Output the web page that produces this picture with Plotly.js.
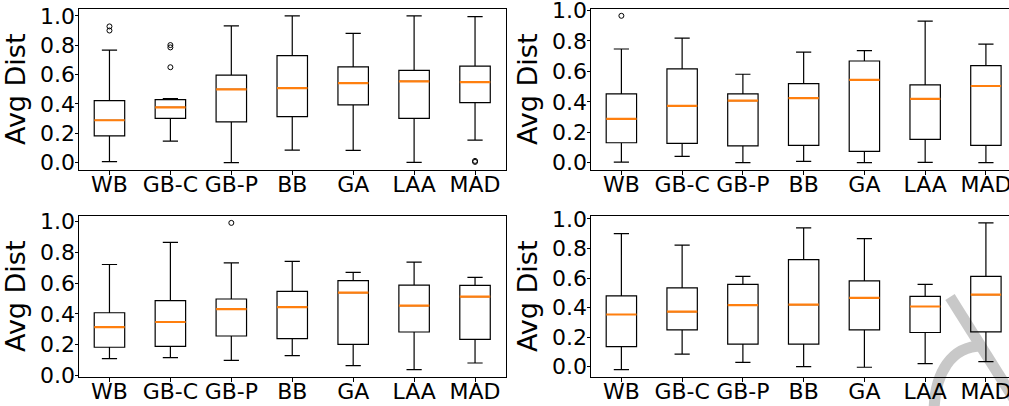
<!DOCTYPE html>
<html>
<head>
<meta charset="utf-8">
<script src="https://cdn.plot.ly/plotly-3.0.1.min.js"></script>
<style>html,body{margin:0;padding:0;background:#fff}#chart{width:1009px;height:406px}</style>
</head>
<body>
<div id="chart"></div>
<script>
// ---------- data ----------
const categories = ['WB', 'GB-C', 'GB-P', 'BB', 'GA', 'LAA', 'MAD'];
const yTickVals = [0, 0.2, 0.4, 0.6, 0.8, 1.0];
const yTickText = ['0.0', '0.2', '0.4', '0.6', '0.8', '1.0'];
const yTitle = 'Avg Dist';

// top-left panel
const tlLow = [0.007, 0.147, 0.000, 0.086, 0.084, 0.002, 0.153];
const tlQ1  = [0.183, 0.302, 0.278, 0.314, 0.393, 0.302, 0.409];
const tlMed = [0.289, 0.377, 0.499, 0.508, 0.542, 0.553, 0.549];
const tlQ3  = [0.422, 0.429, 0.596, 0.729, 0.652, 0.628, 0.657];
const tlHigh= [0.767, 0.436, 0.932, 1.000, 0.880, 1.000, 0.995];
const tlOutCat = ['WB', 'WB', 'GB-C', 'GB-C', 'GB-C', 'MAD', 'MAD'];
const tlOutVal = [0.928, 0.900, 0.801, 0.785, 0.650, 0.012, 0.005];

// top-right panel
const trLow = [0.004, 0.041, 0.000, 0.009, 0.000, 0.002, 0.000];
const trQ1  = [0.131, 0.127, 0.111, 0.114, 0.074, 0.153, 0.114];
const trMed = [0.288, 0.373, 0.408, 0.424, 0.544, 0.419, 0.504];
const trQ3  = [0.452, 0.616, 0.452, 0.520, 0.668, 0.511, 0.638];
const trHigh= [0.747, 0.819, 0.581, 0.727, 0.736, 0.930, 0.779];
const trOutCat = ['WB'];
const trOutVal = [0.965];

// bottom-left panel
const blLow = [0.110, 0.117, 0.099, 0.130, 0.065, 0.039, 0.082];
const blQ1  = [0.184, 0.190, 0.257, 0.240, 0.203, 0.283, 0.235];
const blMed = [0.315, 0.348, 0.432, 0.445, 0.538, 0.454, 0.512];
const blQ3  = [0.408, 0.486, 0.497, 0.546, 0.616, 0.587, 0.585];
const blHigh= [0.721, 0.864, 0.732, 0.741, 0.670, 0.737, 0.637];
const blOutCat = ['GB-P'];
const blOutVal = [0.991];

// bottom-right panel
const brLow = [-0.020, 0.085, 0.029, 0.000, -0.004, 0.020, 0.034];
const brQ1  = [0.135, 0.249, 0.153, 0.153, 0.249, 0.231, 0.236];
const brMed = [0.353, 0.373, 0.416, 0.420, 0.465, 0.407, 0.488];
const brQ3  = [0.479, 0.533, 0.557, 0.724, 0.580, 0.476, 0.611];
const brHigh= [0.901, 0.822, 0.611, 0.939, 0.867, 0.557, 0.973];
const brOutCat = [];
const brOutVal = [];

// ---------- build ----------
const W = 1009, H = 406, ML = 3;
const FONT = 'DejaVu Sans, Liberation Sans, sans-serif';
const panels = [
  {ax: '',  low: tlLow, q1: tlQ1, med: tlMed, q3: tlQ3, high: tlHigh, oc: tlOutCat, ov: tlOutVal},
  {ax: '2', low: trLow, q1: trQ1, med: trMed, q3: trQ3, high: trHigh, oc: trOutCat, ov: trOutVal},
  {ax: '3', low: blLow, q1: blQ1, med: blMed, q3: blQ3, high: blHigh, oc: blOutCat, ov: blOutVal},
  {ax: '4', low: brLow, q1: brQ1, med: brMed, q3: brQ3, high: brHigh, oc: brOutCat, ov: brOutVal}
];

const traces = [];
panels.forEach(p => {
  const xa = 'x' + p.ax, ya = 'y' + p.ax;
  traces.push({
    type: 'box', x: categories, q1: p.q1, median: p.med, q3: p.q3,
    lowerfence: p.low, upperfence: p.high,
    xaxis: xa, yaxis: ya, width: 0.5, whiskerwidth: 0.5,
    line: {color: '#000000', width: 1.2}, fillcolor: 'rgba(0,0,0,0)',
    boxpoints: false, hoverinfo: 'skip', showlegend: false
  });
  // orange median line overlay
  traces.push({
    type: 'box', x: categories, q1: p.med, median: p.med, q3: p.med,
    lowerfence: p.med, upperfence: p.med,
    xaxis: xa, yaxis: ya, width: 0.5, whiskerwidth: 0,
    line: {color: '#ff7f0e', width: 2.2}, fillcolor: 'rgba(0,0,0,0)',
    boxpoints: false, hoverinfo: 'skip', showlegend: false
  });
  if (p.oc.length) {
    traces.push({
      type: 'scatter', mode: 'markers', x: p.oc, y: p.ov, xaxis: xa, yaxis: ya,
      marker: {symbol: 'circle-open', size: 5, color: '#000000', line: {width: 1, color: '#000000'}},
      hoverinfo: 'skip', showlegend: false
    });
  }
});

// pixel -> paper fraction (plot area starts at ML)
const px = v => (v - ML) / (W - ML);
const py = v => 1 - v / H;

const leftDom = [px(79), px(505.5)];
const rightDom = [px(591), 1];
const topDom = [py(170), py(8.5)];
const botDom = [py(377), py(215.5)];

function xAxis(dom, anchor, rng) {
  return {
    domain: dom, anchor: anchor, type: 'category', categoryorder: 'array', categoryarray: categories,
    range: rng, showline: true, mirror: true, linecolor: '#000', linewidth: 1,
    ticks: 'outside', ticklen: 3.5, tickwidth: 1, tickcolor: '#000',
    ticklabelstandoff: -9, ticklabeloverflow: 'allow',
    showgrid: false, zeroline: false, fixedrange: true,
    tickfont: {family: FONT, size: 22, color: '#000'}
  };
}
function yAxis(dom, anchor, rng, mirror) {
  return {
    domain: dom, anchor: anchor, range: rng, tickvals: yTickVals, ticktext: yTickText,
    showline: true, mirror: mirror, linecolor: '#000', linewidth: 1,
    ticks: 'outside', ticklen: 3.5, tickwidth: 1, tickcolor: '#000',
    ticklabelstandoff: -5, ticklabeloverflow: 'allow',
    showgrid: false, zeroline: false, fixedrange: true,
    tickfont: {family: FONT, size: 22, color: '#000'},
    title: {text: yTitle, font: {family: FONT, size: 27, color: '#000'}, standoff: 6}
  };
}

// decorative grey watermark stroke (pixel -> paper)
const wm = 'rgb(200,200,200)';
const arcPath = 'M ' + px(934) + ',' + py(414) +
  ' C ' + px(934) + ',' + py(372) + ' ' + px(952) + ',' + py(346) + ' ' + px(982) + ',' + py(346);

const layout = {
  width: W, height: H,
  margin: {l: ML, r: 0, t: 0, b: 0, pad: 0},
  paper_bgcolor: '#ffffff', plot_bgcolor: 'rgba(0,0,0,0)',
  boxmode: 'overlay', showlegend: false,
  font: {family: FONT, color: '#000'},
  xaxis: xAxis(leftDom, 'y', [-0.5, 6.5]),
  yaxis: yAxis(topDom, 'x', [-0.05, 1.05], true),
  xaxis2: xAxis(rightDom, 'y2', [-0.5, 6.38]),
  yaxis2: yAxis(topDom, 'x2', [-0.048, 1.013], false),
  xaxis3: xAxis(leftDom, 'y3', [-0.5, 6.5]),
  yaxis3: yAxis(botDom, 'x3', [-0.009, 1.039], true),
  xaxis4: xAxis(rightDom, 'y4', [-0.5, 6.38]),
  yaxis4: yAxis(botDom, 'x4', [-0.07, 1.023], false),
  shapes: [
    {type: 'line', xref: 'paper', yref: 'paper', layer: 'below',
     x0: px(950), y0: py(297), x1: px(1016), y1: py(402), line: {color: wm, width: 11}},
    {type: 'path', xref: 'paper', yref: 'paper', layer: 'below',
     path: arcPath, line: {color: wm, width: 11}}
  ]
};

Plotly.newPlot('chart', traces, layout, {staticPlot: true, displayModeBar: false});
</script>
</body>
</html>
